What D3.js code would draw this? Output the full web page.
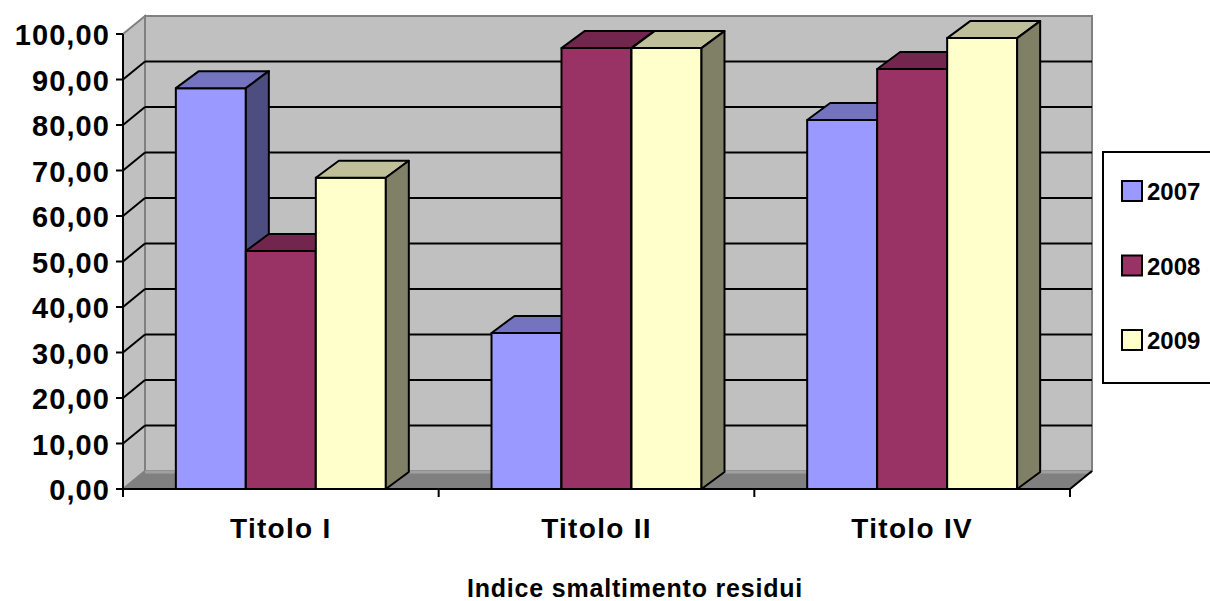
<!DOCTYPE html>
<html>
<head>
<meta charset="utf-8">
<script src="https://cdn.jsdelivr.net/npm/d3@7"></script>
<style>
  html, body { margin: 0; padding: 0; background: #ffffff; }
  svg { display: block; font-family: "Liberation Sans", Arial, sans-serif; font-weight: bold; }
</style>
</head>
<body>
<svg id="chart" width="1210" height="601"></svg>
<script>
// Data
const categories = ["Titolo I", "Titolo II", "Titolo IV"];
const seriesNames = ["2007", "2008", "2009"];
const values2007 = [88.1, 34.3, 81.1];
const values2008 = [52.3, 96.9, 92.3];
const values2009 = [68.4, 96.9, 99.1];
const yTicks = [0, 10, 20, 30, 40, 50, 60, 70, 80, 90, 100];
const axisTitle = "Indice smaltimento residui";

const seriesValues = [values2007, values2008, values2009];

// Face colours per series: front, top, side
const frontColors = ["#9999ff", "#993366", "#ffffcc"];
const topColors   = ["#7373bf", "#73264d", "#bfbf99"];
const sideColors  = ["#4d4d80", "#4d1a33", "#808066"];

// Geometry of the 3D box
const plot = { left: 123, right: 1070, top: 34, bottom: 489 };
const wallDx = 22, wallDy = -18;
const barDx = 23, barDy = -17;

const svg = d3.select("#chart");

const x0 = d3.scaleBand().domain(categories).range([plot.left, plot.right]).paddingInner(0).paddingOuter(0);
const x1 = d3.scaleBand().domain(seriesNames).range([0, x0.bandwidth()]).paddingInner(0).paddingOuter(0.755);
const y = d3.scaleLinear().domain([0, 100]).range([plot.bottom, plot.top]);

const locale = d3.formatLocale({ decimal: ",", thousands: ".", grouping: [3], currency: ["", "€"] });
const fmt = locale.format(".2f");

const pts = arr => arr.map(p => p.join(",")).join(" ");

// Walls and floor
const g = svg.append("g");
// back wall
g.append("rect")
  .attr("x", plot.left + wallDx).attr("y", plot.top + wallDy)
  .attr("width", plot.right - plot.left).attr("height", plot.bottom - plot.top)
  .attr("fill", "#c0c0c0").attr("stroke", "#808080").attr("stroke-width", 2);
// left side wall
g.append("polygon")
  .attr("points", pts([[plot.left, plot.bottom], [plot.left + wallDx, plot.bottom + wallDy],
                       [plot.left + wallDx, plot.top + wallDy], [plot.left, plot.top]]))
  .attr("fill", "#c0c0c0").attr("stroke", "#808080").attr("stroke-width", 2);
// floor
g.append("polygon")
  .attr("points", pts([[plot.left, plot.bottom], [plot.right, plot.bottom],
                       [plot.right + wallDx, plot.bottom + wallDy], [plot.left + wallDx, plot.bottom + wallDy]]))
  .attr("fill", "#808080").attr("stroke", "none");
g.append("line")
  .attr("x1", plot.left + wallDx).attr("x2", plot.right + wallDx)
  .attr("y1", plot.bottom + wallDy + 1).attr("y2", plot.bottom + wallDy + 1)
  .attr("stroke", "#a0a0a0").attr("stroke-width", 3);

// Gridlines on side wall and back wall
const gridVals = yTicks.filter(v => v > 0 && v < 100);
g.selectAll("line.grid-back").data(gridVals).join("line")
  .attr("class", "grid-back")
  .attr("x1", plot.left + wallDx).attr("x2", plot.right + wallDx)
  .attr("y1", d => y(d) + wallDy).attr("y2", d => y(d) + wallDy)
  .attr("stroke", "#000").attr("stroke-width", 2);
g.selectAll("line.grid-side").data(gridVals).join("line")
  .attr("class", "grid-side")
  .attr("x1", plot.left).attr("x2", plot.left + wallDx)
  .attr("y1", d => y(d)).attr("y2", d => y(d) + wallDy)
  .attr("stroke", "#000").attr("stroke-width", 2);

// Bars
const bars = svg.append("g")
  .attr("stroke", "#000").attr("stroke-width", 2).attr("stroke-linejoin", "round");
categories.forEach((cat, ci) => {
  seriesNames.forEach((s, si) => {
    const v = seriesValues[si][ci];
    const xl = x0(cat) + x1(s);
    const xr = xl + x1.bandwidth();
    const yt = y(v), yb = y(0);
    bars.append("rect")
      .attr("x", xl).attr("y", yt).attr("width", xr - xl).attr("height", yb - yt)
      .attr("fill", frontColors[si]);
    bars.append("polygon")
      .attr("points", pts([[xl, yt], [xr, yt], [xr + barDx, yt + barDy], [xl + barDx, yt + barDy]]))
      .attr("fill", topColors[si]);
    bars.append("polygon")
      .attr("points", pts([[xr, yt], [xr + barDx, yt + barDy], [xr + barDx, yb + barDy], [xr, yb]]))
      .attr("fill", sideColors[si]);
  });
});

// Axes lines
const ax = svg.append("g").attr("stroke", "#000").attr("stroke-width", 2).attr("fill", "none");
ax.append("line").attr("x1", plot.left).attr("x2", plot.left).attr("y1", plot.top).attr("y2", plot.bottom + 8);
ax.append("polyline")
  .attr("points", pts([[plot.left, plot.bottom], [plot.right, plot.bottom], [plot.right + wallDx, plot.bottom + wallDy]]));
// y ticks
ax.selectAll("line.yt").data(yTicks).join("line").attr("class", "yt")
  .attr("x1", plot.left - 7).attr("x2", plot.left)
  .attr("y1", d => y(d)).attr("y2", d => y(d));
// x ticks at category boundaries
const xBounds = categories.map(c => x0(c)).concat([plot.right]);
ax.selectAll("line.xt").data(xBounds).join("line").attr("class", "xt")
  .attr("x1", d => d).attr("x2", d => d)
  .attr("y1", plot.bottom).attr("y2", plot.bottom + 8);

// Y tick labels
svg.append("g").selectAll("text").data(yTicks).join("text")
  .attr("x", 110).attr("y", d => y(d) + 11)
  .attr("text-anchor", "end")
  .attr("font-size", 29).attr("letter-spacing", 1.1)
  .text(d => fmt(d));

// Category labels
svg.append("g").selectAll("text").data(categories).join("text")
  .attr("x", d => x0(d) + x0.bandwidth() / 2).attr("y", 538)
  .attr("text-anchor", "middle")
  .attr("font-size", 28).attr("letter-spacing", 1.3)
  .text(d => d);

// Axis title
svg.append("text")
  .attr("x", 635).attr("y", 597)
  .attr("text-anchor", "middle")
  .attr("font-size", 25).attr("letter-spacing", 0.8)
  .text(axisTitle);

// Legend
const legend = svg.append("g");
legend.append("rect")
  .attr("x", 1103).attr("y", 152).attr("width", 120).attr("height", 231)
  .attr("fill", "#fff").attr("stroke", "#000").attr("stroke-width", 2);
const items = legend.selectAll("g.item").data(seriesNames).join("g").attr("class", "item")
  .attr("transform", (d, i) => `translate(1122, ${181 + i * 74.5})`);
items.append("rect")
  .attr("width", 20).attr("height", 20)
  .attr("fill", (d, i) => frontColors[i]).attr("stroke", "#000").attr("stroke-width", 2);
items.append("text")
  .attr("x", 25).attr("y", 19)
  .attr("font-size", 24)
  .text(d => d);
</script>
</body>
</html>
